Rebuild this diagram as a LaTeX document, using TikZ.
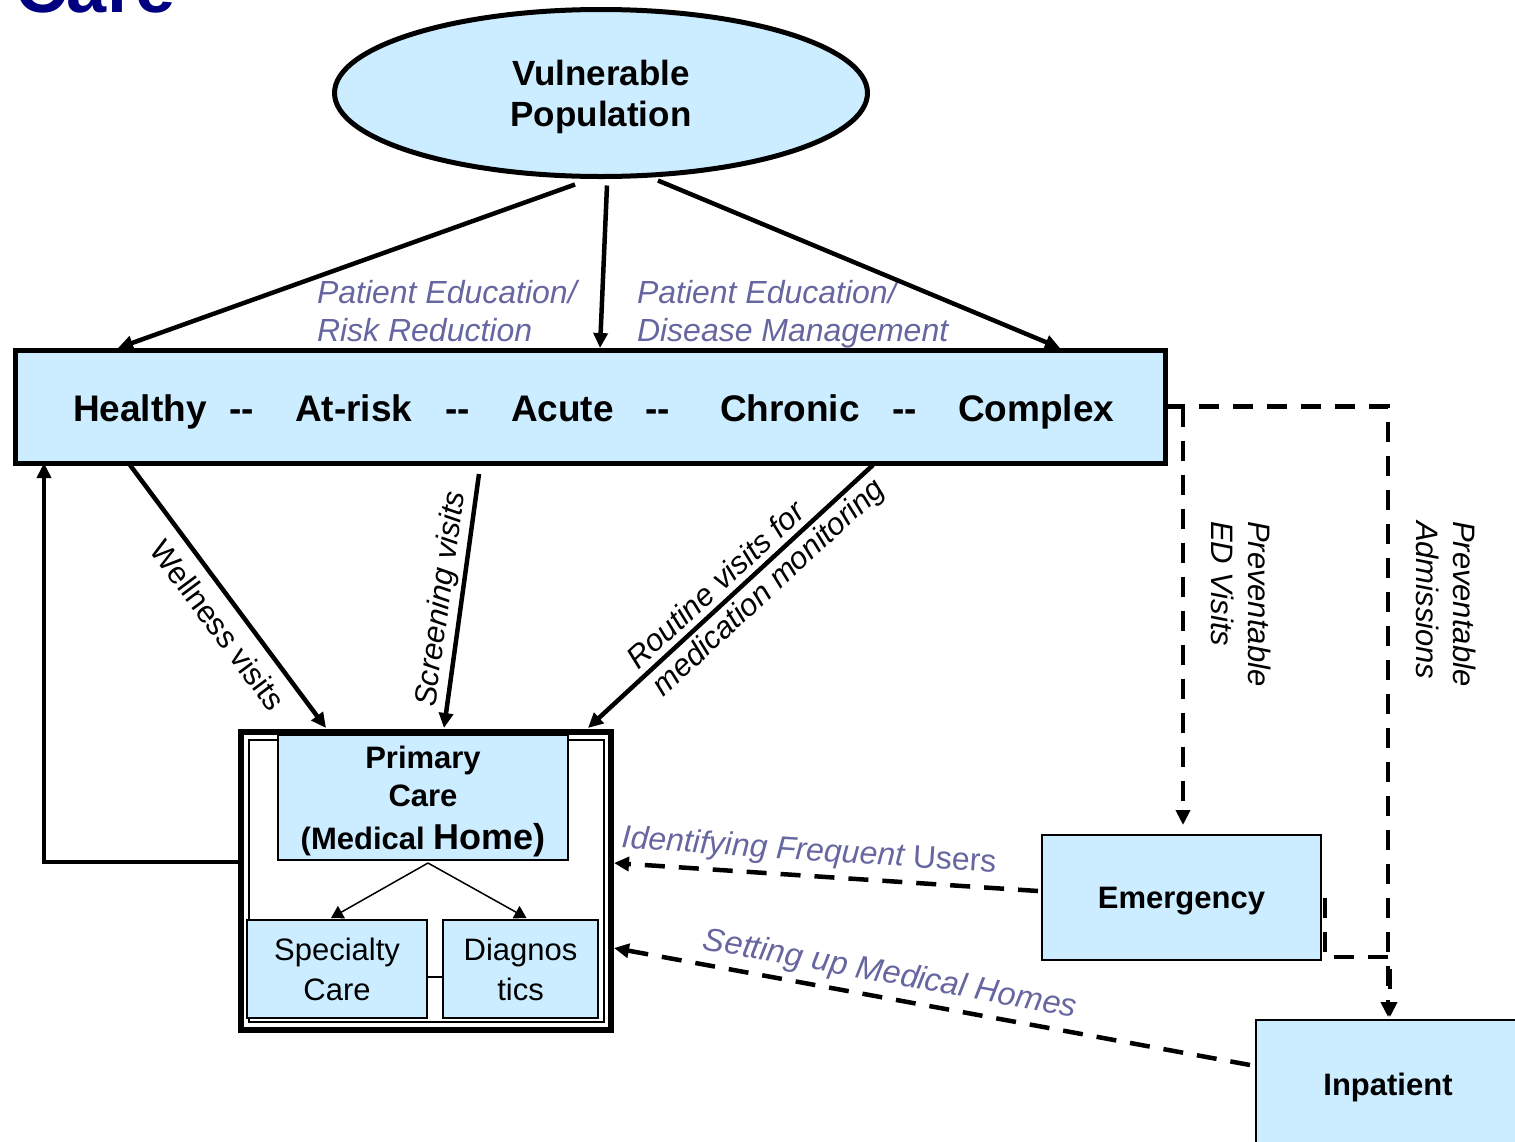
\documentclass[tikz,border=0pt]{standalone}
\usepackage{fontspec}
\setmainfont{Liberation Sans}
\usetikzlibrary{arrows.meta,shapes.geometric,calc}
\definecolor{lb}{RGB}{204,236,255}
\definecolor{slate}{RGB}{102,102,160}
\definecolor{navytitle}{RGB}{0,0,128}
\begin{document}
\begin{tikzpicture}[x=1pt,y=-1pt,
  every node/.append style={outer sep=0pt},
  tip/.style={-{Triangle[length=15pt,width=14pt]}},
  conn/.style={line width=4.5pt, tip},
  dsh/.style={line width=4.5pt, dash pattern=on 20pt off 14pt, tip},
  thinconn/.style={line width=1.5pt, -{Triangle[length=12pt,width=14pt]}},
  box/.style={draw, fill=lb, rectangle, inner sep=0pt},
  word/.style={anchor=base west, inner sep=0pt, font=\fontsize{37}{40}\selectfont\bfseries},
  lbl/.style={inner sep=0pt, font=\fontsize{31}{37}\selectfont\itshape},
  slatelbl/.style={lbl, text=slate, font=\fontsize{32}{38}\selectfont\itshape}]
\useasboundingbox (0,0) rectangle (1515,1141);

% title (cropped)
\node[anchor=base west, inner sep=0pt, text=navytitle, font=\fontsize{72}{80}\selectfont\bfseries] (title) at (15,12) {Care};

% nodes
\node[ellipse, draw, line width=5pt, fill=lb, minimum width=533pt, minimum height=167pt, inner sep=0pt] (vp) at (601,93) {};
\node[inner sep=0pt, align=center, font=\fontsize{35}{41}\selectfont\bfseries] (vptext) at (601,97) {Vulnerable\\Population};

\node[box, line width=5pt, minimum width=1150pt, minimum height=113pt] (main) at (590,406.5) {};
\node[word] (w1) at (73,421) {Healthy};
\node[word] (d1) at (229,421) {-{}-};
\node[word] (w2) at (295,421) {At-risk};
\node[word] (d2) at (445,421) {-{}-};
\node[word] (w3) at (511,421) {Acute};
\node[word] (d3) at (645,421) {-{}-};
\node[word] (w4) at (720,421) {Chronic};
\node[word] (d4) at (892,421) {-{}-};
\node[word] (w5) at (958,421) {Complex};

\node[draw, line width=6pt, minimum width=370pt, minimum height=298pt, inner sep=0pt] (pcf) at (426,881) {};
\draw[line width=2pt] ([shift={(8,8)}]pcf.north west) rectangle ([shift={(-7,-8)}]pcf.south east);

\node[box, line width=1.5pt, minimum width=290pt, minimum height=125pt] (pc) at (423,797.5) {};
\node[inner sep=0pt, align=center, font=\fontsize{31}{38}\selectfont\bfseries] (pctext) at (423,801) {Primary\\Care\\[5pt](Medical {\fontsize{36}{38}\selectfont Home)}};
\node[box, line width=1.5pt, minimum width=180pt, minimum height=98pt, align=center, font=\fontsize{31}{40}\selectfont] (sc) at (337,969) {Specialty\\Care};
\node[box, line width=1.5pt, minimum width=155pt, minimum height=98pt, align=center, font=\fontsize{31}{40}\selectfont] (dg) at (520.5,969) {Diagnos\\tics};

\node[box, line width=2pt, minimum width=279pt, minimum height=125pt, text height=22pt, text depth=0pt, font=\fontsize{31}{37}\selectfont\bfseries] (em) at (1181.5,897.5) {Emergency};
\node[box, line width=2pt, minimum width=264pt, minimum height=128pt, text height=22pt, text depth=0pt, font=\fontsize{31}{37}\selectfont\bfseries] (inp) at (1388,1084) {Inpatient};

% labels
\node[slatelbl, anchor=north west, align=left] (pe1) at (317,280) {Patient Education/\\Risk Reduction};
\node[slatelbl, anchor=north west, align=left] (pe2) at (637,280) {Patient Education/\\Disease Management};

\node[lbl, font=\fontsize{31}{37}\selectfont, rotate=-53.3] (wl) at (218,625) {Wellness visits};
\node[lbl, rotate=82.1] (sl) at (442,599) {Screening visits};
\node[lbl, rotate=42.7, align=left] (rl) at (757,575) {Routine visits for\\medication monitoring};

\node[lbl, rotate=-90, align=left, anchor=north west] (ped) at (1271,521) {Preventable\\ED Visits};
\node[lbl, rotate=-90, align=left, anchor=north west] (pad) at (1476,521) {Preventable\\Admissions};

\node[slatelbl, rotate=-3.8] (ifu) at (809,852) {\itshape Identifying Frequent \upshape Users};
\node[slatelbl, font=\fontsize{32.5}{38}\selectfont\itshape, rotate=-10.4] (smh) at (890,975) {Setting up Medical Homes};

% connectors
\draw[conn] ([xshift=-26pt,yshift=-8pt]vp.south) -- ([xshift=103pt,yshift=2pt]main.north west);
\draw[conn] ([xshift=6pt,yshift=-9pt]vp.south) -- ([xshift=10pt,yshift=2pt]main.north);
\draw[conn] ([xshift=57pt,yshift=-4pt]vp.south) -- ([xshift=-105pt,yshift=2pt]main.north east);

\draw[conn] ([xshift=115pt,yshift=-2pt]main.south west) -- ([xshift=85pt,yshift=4pt]pcf.north west);
\draw[conn] ([xshift=-111pt,yshift=-11pt]main.south) -- ([xshift=18pt,yshift=4pt]pcf.north);
\draw[conn] ([xshift=-292pt,yshift=-2pt]main.south east) -- ([xshift=-23pt,yshift=4pt]pcf.north east);

\draw[conn] ([yshift=19pt]pcf.west) -| ([xshift=29pt]main.south west);

\draw[thinconn] ([xshift=5pt,yshift=-3pt]pc.south) -- ([xshift=-6pt,yshift=2pt]sc.north);
\draw[thinconn] ([xshift=5pt,yshift=-3pt]pc.south) -- ([xshift=6pt,yshift=2pt]dg.north);
\draw[line width=1.5pt] ([yshift=-8pt]sc.east) -- ([yshift=-8pt]dg.west);

\draw[dsh] (main.east) -- (main.east -| inp.north) -- ([yshift=3pt]inp.north);
\draw[dsh] ([xshift=18pt]main.east) -- ([xshift=1.5pt,yshift=10pt]em.north);
\draw[dsh] ([xshift=4pt]em.east) |- ($(em.south east -| inp.north)+(2,-3)$) -- ([xshift=2pt,yshift=3pt]inp.north);

\draw[dsh] ([xshift=-4pt,yshift=6.5pt]em.west) -- ([xshift=3pt,yshift=18pt]pcf.east);
\draw[dsh] ([xshift=-6pt,yshift=19pt]inp.west) -- ([xshift=3pt,yshift=-67pt]pcf.east);
\end{tikzpicture}
\end{document}
